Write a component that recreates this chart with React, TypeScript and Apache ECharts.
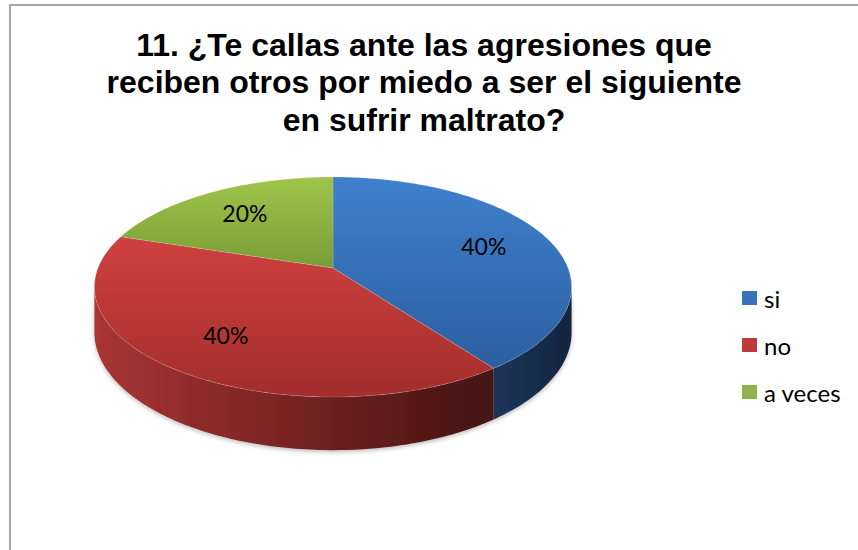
import React, { useEffect, useRef } from "react";
import * as echarts from "echarts";

const TITLE_LINES = [
  "11. ¿Te callas ante las agresiones que",
  "reciben otros por miedo a ser el siguiente",
  "en sufrir maltrato?",
];
const categories = ["si", "no", "a veces"];
const values = [40, 40, 20];
const percentLabels = ["40%", "40%", "20%"];

const legendColors = ["#3a73bb", "#c0393a", "#8fb24a"];
const topColors = [
  ["#3f80ce", "#2c5f9f"],
  ["#cf413f", "#a22e2d"],
  ["#a0c54b", "#7a9c36"],
];
const sideColors = [
  ["#1c3659", "#12253e"],
  ["#aa3434", "#431212"],
  ["#6f8f30", "#4d6420"],
];

// projection parameters (perspective tilted disc)
const CX = 333;
const CY = 268;
const KX = 235;
const KY = 106.7;
const P = 0.1727;
const T = 44;
const TWO_PI = Math.PI * 2;
const TH_S = Math.acos(-P);

function proj(theta: number, r: number): number[] {
  const X = r * Math.sin(theta);
  const Z = r * Math.cos(theta);
  const d = 1 + P * Z;
  return [CX + (KX * X) / d, CY - (KY * Z) / d];
}
function projBottom(theta: number): number[] {
  const Z = Math.cos(theta);
  const d = 1 + P * Z;
  const p = proj(theta, 1);
  return [p[0], p[1] + T / d];
}
function arc(a0: number, a1: number, fn: (t: number) => number[]): number[][] {
  const n = Math.max(2, Math.ceil(((a1 - a0) / TWO_PI) * 360));
  const pts: number[][] = [];
  for (let k = 0; k <= n; k++) pts.push(fn(a0 + ((a1 - a0) * k) / n));
  return pts;
}

export default function App() {
  const ref = useRef<HTMLDivElement>(null);
  useEffect(() => {
    document.body.style.margin = "0";
    const chart = echarts.init(ref.current!, null, { renderer: "svg" });
    const total = values.reduce((a, b) => a + b, 0);

    const renderItem = (params: any, api: any) => {
      const i = params.seriesIndex;
      const v = api.value(1) as number;
      let before = 0;
      for (let j = 0; j < i; j++) before += values[j];
      const start = (before / total) * TWO_PI;
      const end = start + (v / total) * TWO_PI;
      const children: any[] = [];

      const s0 = Math.max(start, TH_S);
      const s1 = Math.min(end, TWO_PI - TH_S);
      if (s1 > s0) {
        const topPts = arc(s0, s1, (t) => proj(t, 1));
        const botPts = arc(s0, s1, projBottom).reverse();
        children.push({
          type: "polygon",
          z2: 1,
          shape: { points: topPts.concat(botPts) },
          style: {
            fill: new echarts.graphic.LinearGradient(0, 0, 1, 0, [
              { offset: 0, color: sideColors[i][0] },
              { offset: 1, color: sideColors[i][1] },
            ]),
            shadowBlur: 4,
            shadowOffsetY: 2,
            shadowColor: "rgba(0,0,0,0.25)",
          },
        });
      }
      const top = [proj(0, 0)].concat(arc(start, end, (t) => proj(t, 1)));
      children.push({
        type: "polygon",
        z2: 10,
        shape: { points: top },
        style: {
          fill: new echarts.graphic.LinearGradient(0, 0, 0, 1, [
            { offset: 0, color: topColors[i][0] },
            { offset: 1, color: topColors[i][1] },
          ]),
          stroke: "rgba(255,255,255,0.25)",
          lineWidth: 0.6,
        },
      });
      const mid = (start + end) / 2;
      const lp = proj(mid, 0.7);
      children.push({
        type: "text",
        z2: 20,
        x: lp[0],
        y: lp[1],
        style: {
          text: percentLabels[i],
          fill: "#000",
          fontSize: 23,
          fontFamily: "Lato",
          align: "center",
          verticalAlign: "middle",
        },
      });
      return { type: "group", children };
    };

    chart.setOption({
      animation: false,
      legend: {
        data: categories,
        orient: "vertical",
        left: 737,
        top: 281,
        icon: "rect",
        itemWidth: 15,
        itemHeight: 14,
        itemGap: 23,
        selectedMode: false,
        textStyle: {
          fontFamily: "Lato",
          fontSize: 24,
          color: "#000",
          lineHeight: 24,
          padding: [0, 0, 0, 2],
        },
      },
      graphic: [
        {
          type: "rect",
          shape: { x: 10, y: 5, width: 900, height: 600 },
          style: { fill: "none", stroke: "#a6a6a6", lineWidth: 2 },
        },
        {
          type: "text",
          x: 424,
          y: 26,
          style: {
            text: TITLE_LINES.join("\n"),
            fill: "#000",
            fontFamily: "Liberation Sans",
            fontWeight: "bold",
            fontSize: 32,
            lineHeight: 37.5,
            align: "center",
            verticalAlign: "top",
          },
        },
      ],
      series: categories.map((name, i) => ({
        type: "custom",
        name,
        coordinateSystem: "none",
        itemStyle: { color: legendColors[i] },
        data: [[i, values[i]]],
        renderItem,
      })),
    });
    return () => chart.dispose();
  }, []);
  return (
    <div
      ref={ref}
      style={{ position: "absolute", left: 0, top: 0, width: 858, height: 550 }}
    />
  );
}
